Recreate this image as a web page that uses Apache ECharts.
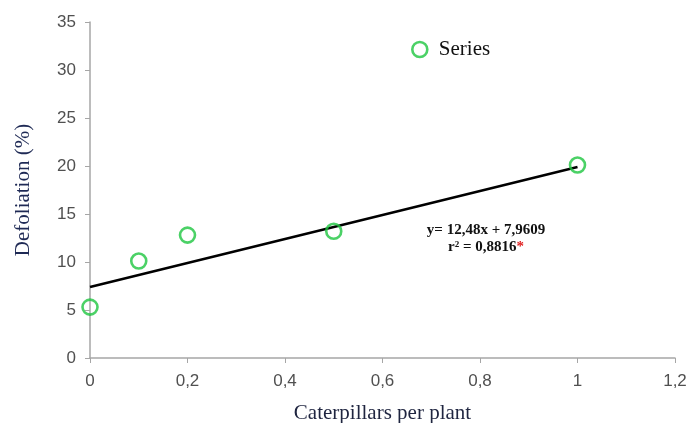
<!DOCTYPE html>
<html><head><meta charset="utf-8">
<script src="https://cdn.jsdelivr.net/npm/echarts@6/dist/echarts.min.js"></script>
<style>html,body{margin:0;padding:0;background:#fff}#c{width:692px;height:423px}</style>
</head><body><div id="c"></div>
<script>
const xValues = [0, 0.1, 0.2, 0.5, 1];
const yValues = [5.3, 10.1, 12.8, 13.2, 20.1];
const trendX = [0, 1];
const trendY = [7.4, 19.9];
const seriesName = 'Series';
const equationText = 'y= 12,48x + 7,9609';
const r2Text = 'r² = 0,8816';

const chart = echarts.init(document.getElementById('c'));
const fmt = v => {
  const r = Math.round(v * 10) / 10;
  return String(r).replace('.', ',');
};
const eqFont = {fontFamily: 'Liberation Serif', fontWeight: 'bold', fontSize: 15, fill: '#111'};
const green = '#1ec640';
chart.setOption({
  animation: false,
  grid: {left: 90, right: 17, top: 22, bottom: 65, containLabel: false, outerBoundsMode: 'none'},
  legend: {
    data: [{name: seriesName, icon: 'circle'}],
    left: 406, top: 34, itemWidth: 16, itemHeight: 15, itemGap: 8,
    itemStyle: {color: 'rgba(255,255,255,0)', borderColor: green, borderWidth: 2.6},
    textStyle: {fontFamily: 'Liberation Serif', fontSize: 21, color: '#111', padding: [0, 0, 0, 6]}
  },
  xAxis: {
    type: 'value', min: 0, max: 1.2, interval: 0.2,
    name: 'Caterpillars per plant', nameLocation: 'middle', nameGap: 45,
    nameTextStyle: {fontFamily: 'Liberation Serif', fontSize: 21, color: '#1f2540'},
    axisLine: {show: true, lineStyle: {color: '#a6a6a6', width: 1.5}},
    axisTick: {show: true, length: 5, lineStyle: {color: '#a6a6a6'}},
    splitLine: {show: false},
    axisLabel: {formatter: fmt, fontFamily: 'Liberation Sans', fontSize: 17, color: '#505050', margin: 15}
  },
  yAxis: {
    type: 'value', min: 0, max: 35, interval: 5,
    name: 'Defoliation (%)', nameLocation: 'middle', nameGap: 56,
    nameTextStyle: {fontFamily: 'Liberation Serif', fontSize: 21, color: '#1f2a55'},
    axisLine: {show: true, lineStyle: {color: '#a6a6a6', width: 1.5}},
    axisTick: {show: true, length: 5, lineStyle: {color: '#a6a6a6'}},
    splitLine: {show: false},
    axisLabel: {fontFamily: 'Liberation Sans', fontSize: 17, color: '#505050', margin: 14}
  },
  series: [
    {
      name: 'trend', type: 'line', data: trendX.map((x, i) => [x, trendY[i]]),
      symbol: 'none', lineStyle: {color: '#000', width: 2.5}, z: 2, silent: true
    },
    {
      name: seriesName, type: 'scatter', data: xValues.map((x, i) => [x, yValues[i]]),
      symbol: 'circle', symbolSize: 15,
      itemStyle: {color: 'rgba(255,255,255,0)', borderColor: green, borderWidth: 2.6}, z: 3
    }
  ],
  graphic: [
    {type: 'text', x: 486, y: 230, style: Object.assign({text: equationText, align: 'center', verticalAlign: 'middle'}, eqFont)},
    {type: 'text', x: 486, y: 247, style: {
      text: '{b|' + r2Text + '}{c|*}', align: 'center', verticalAlign: 'middle',
      rich: {
        b: {fontFamily: 'Liberation Serif', fontWeight: 'bold', fontSize: 15, fill: '#111'},
        c: {fontFamily: 'Liberation Serif', fontWeight: 'bold', fontSize: 15, fill: '#e02020'}
      }
    }}
  ]
});
</script></body></html>
